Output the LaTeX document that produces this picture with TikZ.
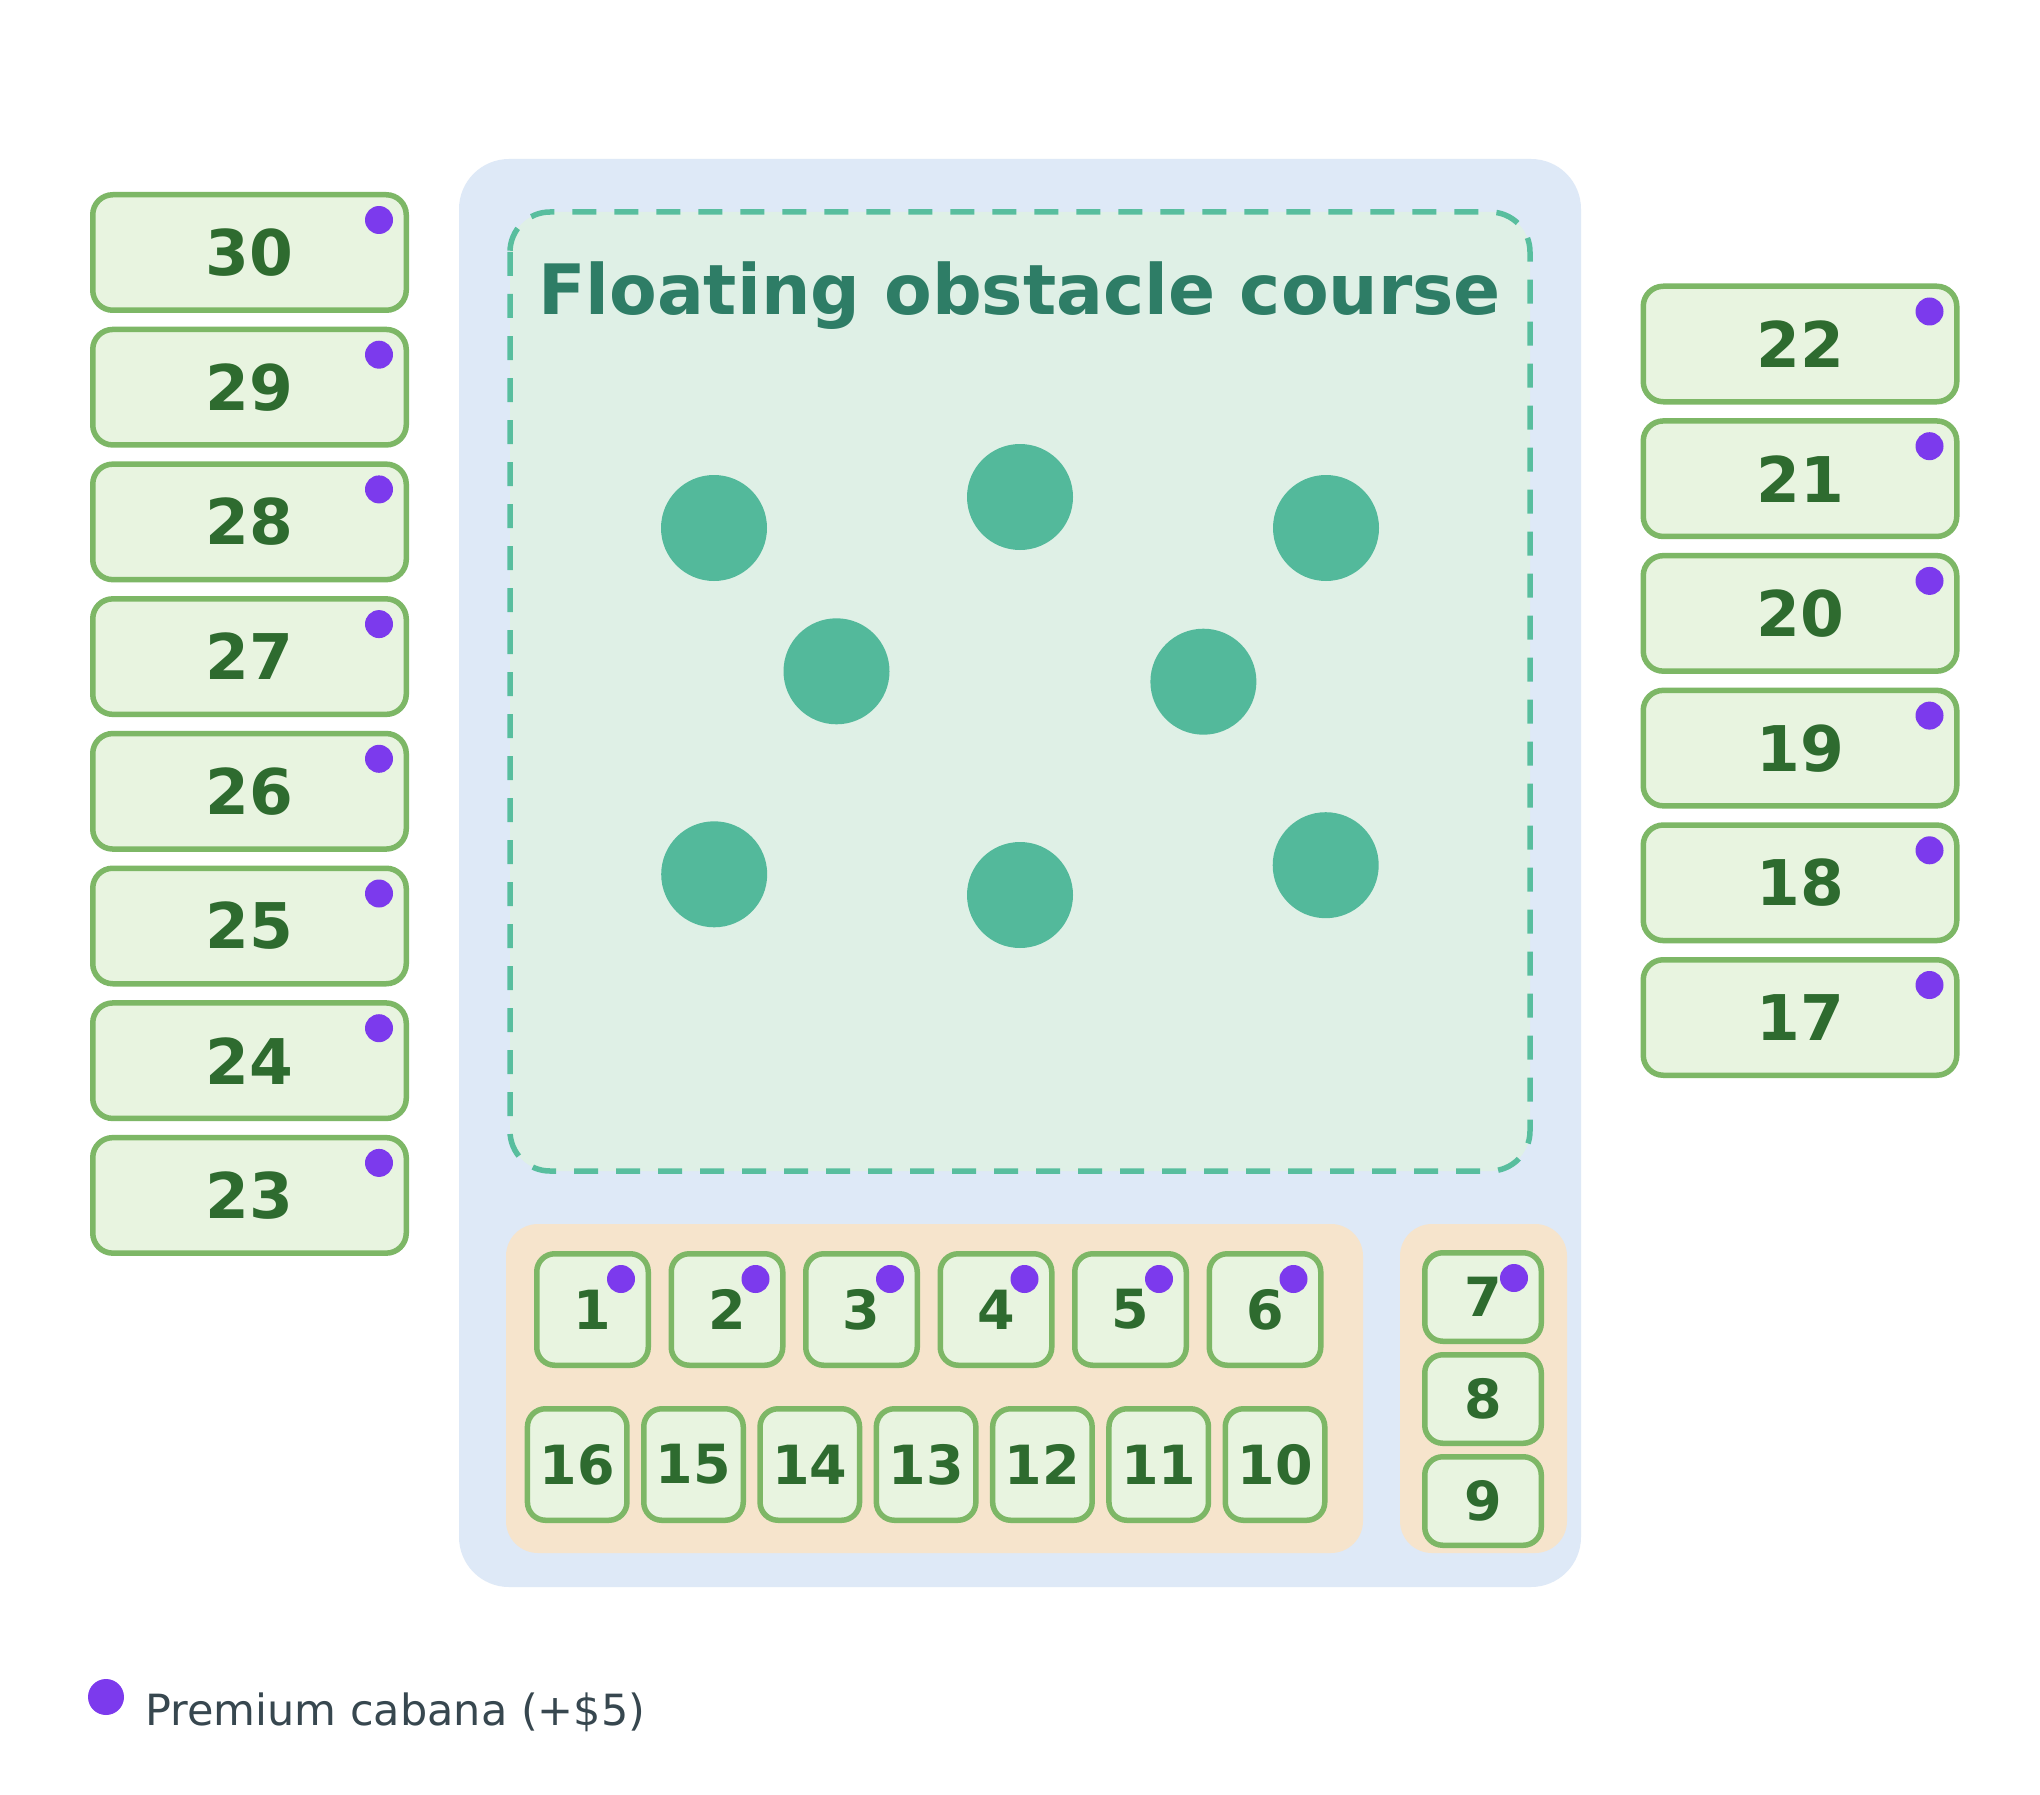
\documentclass[tikz,border=0pt]{standalone}
\usepackage{fontspec}
\setmainfont{DejaVu Sans}
\usetikzlibrary{calc}
\definecolor{seatfill}{HTML}{E8F4E0}
\definecolor{seatline}{HTML}{7DB766}
\definecolor{seattext}{HTML}{2E6B2F}
\definecolor{premium}{HTML}{7C3AED}
\definecolor{panel}{HTML}{DEE9F7}
\definecolor{course}{HTML}{DFF0E6}
\definecolor{courseline}{HTML}{58BE9E}
\definecolor{buoy}{HTML}{53B99B}
\definecolor{titlec}{HTML}{2E7D66}
\definecolor{sand}{HTML}{F6E4CC}
\definecolor{legendtext}{HTML}{37474F}
\begin{document}
\begin{tikzpicture}[x=1pt,y=-1pt,
  seat/.style={draw=seatline, fill=seatfill, line width=5.5pt, inner sep=0pt, text=seattext},
  bigseat/.style={seat, rounded corners=20pt, minimum width=313.5pt, minimum height=115.5pt, font=\bfseries\fontsize{63}{63}\selectfont},
  topseat/.style={seat, rounded corners=18pt, minimum width=111.5pt, minimum height=111.5pt, font=\bfseries\fontsize{54}{54}\selectfont},
  lowseat/.style={seat, rounded corners=18pt, minimum width=99.5pt, minimum height=111.5pt, font=\bfseries\fontsize{54}{54}\selectfont},
  sideseat/.style={seat, rounded corners=18pt, minimum width=116.5pt, minimum height=88.5pt, font=\bfseries\fontsize{54}{54}\selectfont},
  prem/.style={circle, fill=premium, minimum size=28pt, inner sep=0pt},
  buoyc/.style={circle, fill=buoy, minimum size=106pt, inner sep=0pt},
  zone/.style={fill=sand, rounded corners=32pt}]
\useasboundingbox (0,0) rectangle (2040,1795);
\fill[white] (0,0) rectangle (2040,1795);
% main panel
\fill[panel, rounded corners=50pt] (459,159) rectangle (1581,1587);
% obstacle course
\draw[courseline, fill=course, line width=5.5pt, rounded corners=40pt, dash pattern=on 24pt off 18pt] (510,212) rectangle (1530,1171);
\node[anchor=base, text=titlec, font=\bfseries\fontsize{69.5}{69.5}\selectfont] (title) at (1019.5,315) {Floating obstacle course};
\foreach \x/\y [count=\i] in {714/528, 1020/497, 1326/528, 836.5/671.3, 1203.4/681.7, 714.2/874.3, 1020/895, 1325.7/865.2}
  \node[buoyc] (b\i) at (\x,\y) {};
% sand zones
\fill[zone] (506,1224) rectangle (1363,1553);
\fill[zone] (1400,1224) rectangle (1567,1553);
% left column
\foreach \n [count=\i from 0] in {30,29,28,27,26,25,24,23} {
  \node[bigseat] (s\n) at (249.5,252.5+134.7*\i) {\n};
  \node[prem] (p\n) at ($(s\n.north east)+(-30,28)$) {};
}
% right column
\foreach \n [count=\i from 0] in {22,21,20,19,18,17} {
  \node[bigseat] (s\n) at (1800,344+134.7*\i) {\n};
  \node[prem] (p\n) at ($(s\n.north east)+(-30,28)$) {};
}
% top row
\foreach \n [count=\i from 0] in {1,2,3,4,5,6} {
  \node[topseat] (s\n) at (592.5+134.5*\i,1309.5) {\n};
  \node[prem] (p\n) at ($(s\n.north east)+(-30,28)$) {};
}
% bottom row
\foreach \n [count=\i from 0] in {16,15,14,13,12,11,10}
  \node[lowseat] (s\n) at (577.2+116.3*\i,1464.5) {\n};
% side column
\foreach \n [count=\i from 0] in {7,8,9}
  \node[sideseat] (s\n) at (1483,1297+102*\i) {\n};
\node[prem] (p7) at ($(s7.north east)+(-30,28)$) {};
% legend
\node[circle, fill=premium, minimum size=36pt, inner sep=0pt] (legdot) at (106,1697) {};
\node[anchor=base west, inner sep=0pt, text=legendtext, font=\fontsize{43}{43}\selectfont] (legtext) at (145,1725) {Premium cabana (+\$5)};
\end{tikzpicture}
\end{document}
